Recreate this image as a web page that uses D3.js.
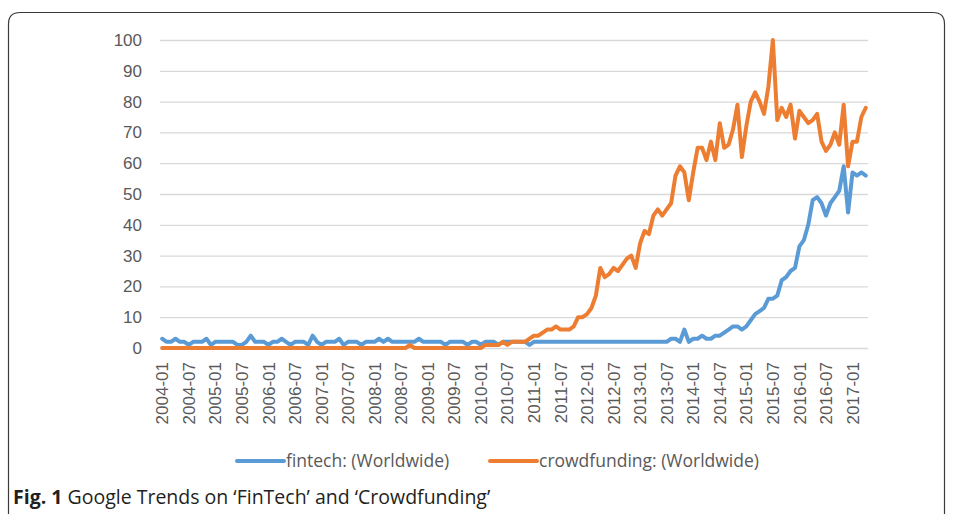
<!DOCTYPE html>
<html>
<head>
<meta charset="utf-8">
<script src="https://cdn.jsdelivr.net/npm/d3@7"></script>
<style>
body { margin: 0; background: #fff; }
svg { display: block; font-family: "Open Sans", sans-serif; }
</style>
</head>
<body>
<script>
// Google Trends monthly interest, 2004-01 .. 2017-04
const fintech = [
	3, 2, 2, 3, 2, 2, 1, 2, 2, 2, 3, 1,
	2, 2, 2, 2, 2, 1, 1, 2, 4, 2, 2, 2,
	1, 2, 2, 3, 2, 1, 2, 2, 2, 1, 4, 2,
	1, 2, 2, 2, 3, 1, 2, 2, 2, 1, 2, 2,
	2, 3, 2, 3, 2, 2, 2, 2, 2, 2, 3, 2,
	2, 2, 2, 2, 1, 2, 2, 2, 2, 1, 2, 2,
	1, 2, 2, 2, 1, 2, 2, 2, 2, 2, 2, 1,
	2, 2, 2, 2, 2, 2, 2, 2, 2, 2, 2, 2,
	2, 2, 2, 2, 2, 2, 2, 2, 2, 2, 2, 2,
	2, 2, 2, 2, 2, 2, 2, 3, 3, 2, 6, 2,
	3, 3, 4, 3, 3, 4, 4, 5, 6, 7, 7, 6,
	7, 9, 11, 12, 13, 16, 16, 17, 22, 23, 25, 26,
	33, 35, 40, 48, 49, 47, 43, 47, 49, 51, 59, 44,
	57, 56, 57, 56
]

const crowdfunding = [
	0, 0, 0, 0, 0, 0, 0, 0, 0, 0, 0, 0,
	0, 0, 0, 0, 0, 0, 0, 0, 0, 0, 0, 0,
	0, 0, 0, 0, 0, 0, 0, 0, 0, 0, 0, 0,
	0, 0, 0, 0, 0, 0, 0, 0, 0, 0, 0, 0,
	0, 0, 0, 0, 0, 0, 0, 0, 1, 0, 0, 0,
	0, 0, 0, 0, 0, 0, 0, 0, 0, 0, 0, 0,
	0, 1, 1, 1, 1, 2, 1, 2, 2, 2, 2, 3,
	4, 4, 5, 6, 6, 7, 6, 6, 6, 7, 10, 10,
	11, 13, 17, 26, 23, 24, 26, 25, 27, 29, 30, 26,
	34, 38, 37, 43, 45, 43, 45, 47, 56, 59, 57, 48,
	57, 65, 65, 61, 67, 61, 73, 65, 66, 71, 79, 62,
	72, 80, 83, 80, 76, 85, 100, 74, 78, 75, 79, 68,
	77, 75, 73, 74, 76, 67, 64, 66, 70, 66, 79, 59,
	67, 67, 75, 78
]

const yTicks = [0, 10, 20, 30, 40, 50, 60, 70, 80, 90, 100]

const tickLabels = ['2004-01', '2004-07', '2005-01', '2005-07', '2006-01', '2006-07',
	'2007-01', '2007-07', '2008-01', '2008-07', '2009-01', '2009-07', '2010-01', '2010-07',
	'2011-01', '2011-07', '2012-01', '2012-07', '2013-01', '2013-07', '2014-01', '2014-07',
	'2015-01', '2015-07', '2016-01', '2016-07', '2017-01']

const seriesNames = ['fintech: (Worldwide)', 'crowdfunding: (Worldwide)']
const colors = ['#5b9bd5', '#ed7d31']

// month categories, one per value
const months = []
for (let i = 0; i < fintech.length; i++) {
	const yr = 2004 + Math.floor(i / 12)
	const mo = (i % 12) + 1
	months.push(yr + '-' + String(mo).padStart(2, '0'))
}

const w = 957
const h = 514
const plot = { left: 160, right: 868, top: 40, bottom: 348 }

const svg = d3.select('body').append('svg')
	.attr('width', w)
	.attr('height', h)

// frame round the figure
svg.append('path')
	.attr('d', 'M8.5,520 V24 Q8.5,12.5 20,12.5 H933 Q944.5,12.5 944.5,24 V520')
	.attr('fill', 'none')
	.attr('stroke', '#3a3a3a')
	.attr('stroke-width', 1.2)

const xScale = d3.scaleBand()
	.domain(months)
	.range([plot.left, plot.right])

const yScale = d3.scaleLinear()
	.domain([0, 100])
	.range([plot.bottom, plot.top])

// y axis with gridlines
const yAxis = svg.append('g')
	.attr('transform', `translate(${plot.left},0)`)
	.call(d3.axisLeft(yScale)
		.tickValues(yTicks)
		.tickSize(-(plot.right - plot.left))
		.tickPadding(18))
yAxis.select('.domain').remove()
yAxis.selectAll('line').attr('stroke', '#d9d9d9').attr('stroke-width', 1.3)
yAxis.selectAll('text')
	.attr('fill', '#595959')
	.style('font-size', '17px')

// x axis, rotated labels
const xAxis = svg.append('g')
	.attr('transform', `translate(0,${plot.bottom})`)
	.call(d3.axisBottom(xScale)
		.tickValues(tickLabels)
		.tickSize(0))
xAxis.select('.domain').remove()
xAxis.selectAll('text')
	.attr('fill', '#595959')
	.style('font-size', '17px')
	.attr('text-anchor', 'end')
	.attr('transform', 'rotate(-90)')
	.attr('x', -14)
	.attr('y', 0)
	.attr('dy', '0.36em')

const line = d3.line()
	.x((d, i) => xScale(months[i]) + xScale.bandwidth() / 2)
	.y(d => yScale(d))

const series = [fintech, crowdfunding]
svg.selectAll('.series')
	.data(series)
	.enter()
	.append('path')
	.attr('class', 'series')
	.attr('d', d => line(d))
	.attr('fill', 'none')
	.attr('stroke', (d, i) => colors[i])
	.attr('stroke-width', 4)
	.attr('stroke-linejoin', 'round')
	.attr('stroke-linecap', 'round')

// legend
const legendX = [237, 490]
const legend = svg.selectAll('.legend')
	.data(seriesNames)
	.enter()
	.append('g')
	.attr('class', 'legend')
	.attr('transform', (d, i) => `translate(${legendX[i]},461)`)
legend.append('line')
	.attr('x1', 0).attr('x2', 47)
	.attr('stroke', (d, i) => colors[i])
	.attr('stroke-width', 4)
	.attr('stroke-linecap', 'round')
legend.append('text')
	.attr('x', 49)
	.attr('dy', '0.35em')
	.attr('fill', '#595959')
	.style('font-size', '17.5px')
	.text(d => d)

// caption
const caption = svg.append('text')
	.attr('x', 13)
	.attr('y', 504)
	.attr('fill', '#231f20')
	.style('font-size', '19.5px')
caption.append('tspan').attr('font-weight', 'bold').text('Fig. 1')
caption.append('tspan').text(' Google Trends on \u2018FinTech\u2019 and \u2018Crowdfunding\u2019')
</script>
</body>
</html>
